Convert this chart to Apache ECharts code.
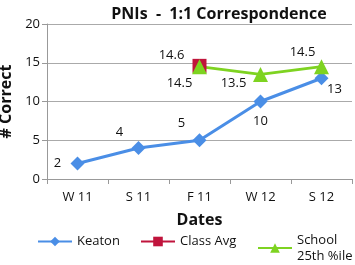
<!DOCTYPE html>
<html>
<head>
<meta charset="utf-8">
<style>
html, body { margin: 0; padding: 0; background: #fff; }
#main { width: 355px; height: 265px; }
</style>
<script src="https://cdn.jsdelivr.net/npm/echarts@6/dist/echarts.min.js"></script>
</head>
<body>
<div id="main"></div>
<script>
var dates = ['W 11', 'S 11', 'F 11', 'W 12', 'S 12'];
var keaton = [2, 4, 5, 10, 13];
var classAvg = [null, null, 14.6, null, null];
var school = [null, null, 14.5, 13.5, 14.5];
var yTicks = [0, 5, 10, 15, 20];

var font = 'Open Sans';
var chart = echarts.init(document.getElementById('main'));

// label offsets from the marker centre, per point
function placeLabels(offs) {
    return function(p) {
        var o = offs[p.dataIndex] || [0, 0];
        return {
            x: p.rect.x + p.rect.width / 2 + o[0],
            y: p.rect.y + p.rect.height / 2 + o[1],
            align: 'center', verticalAlign: 'middle'
        };
    };
}

function legendAt(name, left, top, extra) {
    var l = {
        left: left, top: top, padding: 0,
        itemWidth: 34, itemHeight: 12, itemGap: 0,
        textStyle: {fontSize: 13, color: '#111', fontFamily: font},
        data: [name]
    };
    if (extra) {
        for (var k in extra) l[k] = extra[k];
    }
    return l;
}

var labelStyle = {show: true, color: '#111', fontSize: 13, fontFamily: font};

chart.setOption({
    animation: false,
    title: {
        text: 'PNIs  -  1:1 Correspondence',
        left: 214, top: 1, textAlign: 'center',
        textStyle: {fontSize: 16, fontWeight: 'bold', color: '#111', fontFamily: font}
    },
    grid: {left: 47, right: 3, top: 24, bottom: 86, outerBoundsMode: 'none'},
    legend: [
        legendAt('Keaton', 37, 235),
        legendAt('Class Avg', 140, 235),
        legendAt('School 25th %ile', 257, 224, {
            formatter: function() { return 'School\n25th %ile'; },
            textStyle: {fontSize: 13, color: '#111', fontFamily: font, lineHeight: 16, padding: [16, 0, 0, 0]}
        })
    ],
    xAxis: {
        type: 'category',
        data: dates,
        name: 'Dates',
        nameLocation: 'middle',
        nameGap: 33,
        nameTextStyle: {fontSize: 16, fontWeight: 'bold', color: '#111', fontFamily: font},
        axisLine: {lineStyle: {color: '#999'}},
        axisTick: {show: true, length: 5, lineStyle: {color: '#999'}},
        axisLabel: {fontSize: 13, color: '#111', fontFamily: font, margin: 12}
    },
    yAxis: {
        type: 'value',
        min: 0, max: 20, interval: 5,
        name: '# Correct',
        nameLocation: 'middle',
        nameGap: 27,
        nameTextStyle: {fontSize: 16, fontWeight: 'bold', color: '#111', fontFamily: font},
        axisLine: {show: true, lineStyle: {color: '#999'}},
        axisTick: {show: true, length: 5, lineStyle: {color: '#999'}},
        splitLine: {lineStyle: {color: '#aaa'}},
        axisLabel: {
            fontSize: 13, color: '#111', fontFamily: font, margin: 7,
            formatter: function(v) { return yTicks.indexOf(v) >= 0 ? v : ''; }
        }
    },
    series: [
        {
            name: 'Keaton', type: 'line', data: keaton,
            symbol: 'diamond', symbolSize: 14,
            lineStyle: {width: 3, color: '#4a8ee6'},
            itemStyle: {color: '#4a8ee6'},
            label: labelStyle,
            labelLayout: placeLabels([[-20, 0], [-19, -16], [-18, -17], [0, 20], [13, 11]])
        },
        {
            name: 'Class Avg', type: 'line', data: classAvg,
            symbol: 'rect', symbolSize: 14,
            lineStyle: {width: 3, color: '#c0143c'},
            itemStyle: {color: '#c0143c'},
            label: labelStyle,
            labelLayout: placeLabels([null, null, [-28, -11]])
        },
        {
            name: 'School 25th %ile', type: 'line', data: school,
            symbol: 'triangle', symbolSize: 15,
            lineStyle: {width: 3, color: '#7ed321'},
            itemStyle: {color: '#7ed321'},
            label: labelStyle,
            labelLayout: placeLabels([null, null, [-20, 17], [-27, 9], [-19, -14]])
        }
    ]
});
</script>
</body>
</html>
